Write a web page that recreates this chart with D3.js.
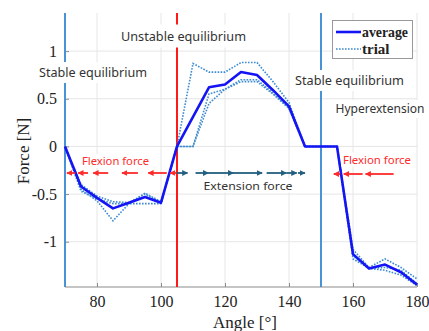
<!DOCTYPE html>
<html><head><meta charset="utf-8">
<script src="https://cdn.jsdelivr.net/npm/d3@7"></script>
<style>html,body{margin:0;padding:0;background:#fff;}svg{display:block;}</style>
</head><body><div id="chart"></div>
<script>
const angles = [70,75,80,85,90,95,100,105,110,115,120,125,130,135,140,145,150,155,160,165,170,175,180];
const average = [0,-0.42,-0.54,-0.65,-0.59,-0.53,-0.59,0,0.31,0.62,0.65,0.78,0.75,0.59,0.42,0,0,0,-1.13,-1.28,-1.24,-1.32,-1.45];
const trial1 = [0,-0.40,-0.52,-0.58,-0.59,-0.50,-0.59,0,0.87,0.78,0.78,0.88,0.88,0.68,0.46,0,0,0,-1.08,-1.27,-1.18,-1.27,-1.39];
const trial2 = [0,-0.45,-0.57,-0.78,-0.60,-0.49,-0.58,0,0,0.55,0.60,0.70,0.70,0.56,0.40,0,0,0,-1.18,-1.28,-1.30,-1.35,-1.46];
const trial3 = [0,-0.47,-0.55,-0.60,-0.60,-0.60,-0.60,0,0,0.45,0.60,0.68,0.68,0.55,0.40,0,0,0,-1.15,-1.28,-1.27,-1.30,-1.44];
const xTicks = [80,100,120,140,160,180];
const yTicks = [-1,-0.5,0,0.5,1];
const yTickLabels = ["-1","-0.5","0","0.5","1"];
const stableLines = [70,150];
const unstableLines = [105];
// arrows: [head, tail] in degrees
const flexArrowsLeft = [[70.6,73.2],[74.1,77.2],[78.8,83.5],[87.8,92.8],[96,101.8],[102.8,104.7]];
const extArrows = [[108.3,104.9],[114.8,110.8],[122.6,114.7],[131.6,122.5],[139.2,133],[142.4,139.2],[145,142.8]];
const flexArrowsRight = [[154,156],[157.1,163],[163.9,172.7]];

const W = 429, H = 331;
const x = d3.scaleLinear().domain([70,180]).range([65,417]);
const y = d3.scaleLinear().domain([-1.475,1.4]).range([287,13]);

const svg = d3.select("#chart").append("svg").attr("width",W).attr("height",H);
const defs = svg.append("defs");
function marker(id,color){
  defs.append("marker").attr("id",id).attr("viewBox","0 0 10 10").attr("refX",9).attr("refY",5)
    .attr("markerWidth",6).attr("markerHeight",6).attr("markerUnits","userSpaceOnUse").attr("orient","auto")
    .append("path").attr("d","M0,0L10,5L0,10z").attr("fill",color);
}
marker("mred","#ff2a2a");
marker("mteal","#235f80");

// grid
const g = svg.append("g");
g.selectAll(".gx").data(xTicks).join("line").attr("x1",d=>x(d)).attr("x2",d=>x(d)).attr("y1",13).attr("y2",287)
  .attr("stroke","#e6e6e6").attr("stroke-width",1);
g.selectAll(".gy").data(yTicks).join("line").attr("x1",65).attr("x2",417).attr("y1",d=>y(d)).attr("y2",d=>y(d))
  .attr("stroke","#e6e6e6").attr("stroke-width",1);

// axes
const xAxis = d3.axisBottom(x).tickValues(xTicks).tickSize(-4).tickPadding(9).tickFormat(d3.format("d"));
const yAxis = d3.axisLeft(y).tickValues(yTicks).tickSize(-4).tickPadding(8).tickFormat((d,i)=>yTickLabels[i]);
const ax = svg.append("g").attr("transform","translate(0,287)").call(xAxis);
const ay = svg.append("g").attr("transform","translate(65,0)").call(yAxis);
[ax,ay].forEach(a=>{
  a.select(".domain").attr("stroke","#8c8c8c").attr("stroke-width",1.2);
  a.selectAll(".tick line").attr("stroke","#8c8c8c");
  a.selectAll("text").attr("font-family","'Liberation Serif', serif").attr("font-size",16).attr("fill","#222");
});
ay.select(".domain").attr("d","M0,13V287");
ax.select(".domain").attr("d","M65,0H417");

// vertical reference lines
svg.selectAll(".vs").data(stableLines).join("line").attr("x1",d=>x(d)).attr("x2",d=>x(d)).attr("y1",13).attr("y2",287)
  .attr("stroke","#4a92d6").attr("stroke-width",2);
svg.selectAll(".vu").data(unstableLines).join("line").attr("x1",d=>x(d)).attr("x2",d=>x(d)).attr("y1",13).attr("y2",287)
  .attr("stroke","#ff1a1a").attr("stroke-width",2);

// data
const line = d3.line().x((d,i)=>x(angles[i])).y(d=>y(d));
[trial1,trial2,trial3].forEach(t=>{
  svg.append("path").attr("d",line(t)).attr("fill","none").attr("stroke","#3d8bd0").attr("stroke-width",1.6)
    .attr("stroke-dasharray","1.6,1.4");
});
svg.append("path").attr("d",line(average)).attr("fill","none").attr("stroke","#1414f5").attr("stroke-width",2.6)
  .attr("stroke-linejoin","round");

// arrows
function arrows(data,color,mid,yv){
  svg.append("g").selectAll("line").data(data).join("line")
    .attr("x1",d=>x(d[1])).attr("x2",d=>x(d[0])).attr("y1",yv).attr("y2",yv)
    .attr("stroke",color).attr("stroke-width",1.8).attr("marker-end",`url(#${mid})`);
}
arrows(flexArrowsLeft,"#ff2a2a","mred",173);
arrows(extArrows,"#235f80","mteal",173);
arrows(flexArrowsRight,"#ff2a2a","mred",174);

// annotations with white background
function label(txt,cx,cy,w,color,fs,bx){
  const gg = svg.append("g");
  const b = bx||{padX:3,padY:10};
  gg.append("rect").attr("x",cx-w/2-b.padX).attr("y",cy-b.padY).attr("width",w+2*b.padX).attr("height",2*b.padY).attr("fill","#fff");
  gg.append("text").attr("x",cx-w/2).attr("y",cy).attr("dy","0.36em").attr("font-family","'Noto Sans', sans-serif")
    .attr("font-size",fs).attr("fill",color).attr("textLength",w).attr("lengthAdjust","spacingAndGlyphs").text(txt);
}
label("Unstable equilibrium",183.5,36,125,"#333",13,{padX:3,padY:11.5});
label("Stable equilibrium",93,72.5,108,"#333",13,{padX:3,padY:10.5});
label("Stable equilibrium",349.5,80.5,109,"#333",13,{padX:3,padY:10.5});
label("Hyperextension",380,109,89,"#333",11.8,{padX:2,padY:9});
label("Flexion force",115.5,161,67,"#ff2a2a",11.5,{padX:2,padY:7});
label("Flexion force",377,159.5,68,"#ff2a2a",11.5,{padX:2,padY:7});
label("Extension force",248,185.5,89,"#333",11.5,{padX:2,padY:7});

// legend
const lg = svg.append("g");
lg.append("rect").attr("x",332.5).attr("y",20.5).attr("width",80).attr("height",38).attr("fill","#fff").attr("stroke","#999").attr("stroke-width",1);
lg.append("line").attr("x1",336).attr("x2",361).attr("y1",32).attr("y2",32).attr("stroke","#1414f5").attr("stroke-width",2.6);
lg.append("line").attr("x1",336).attr("x2",361).attr("y1",49).attr("y2",49).attr("stroke","#3d8bd0").attr("stroke-width",1.6).attr("stroke-dasharray","1.6,1.4");
lg.append("text").attr("x",362).attr("y",32).attr("dy","0.32em").attr("font-family","'Liberation Serif', serif").attr("font-size",15).attr("font-weight","bold").attr("fill","#222").attr("textLength",46).attr("lengthAdjust","spacingAndGlyphs").text("average");
lg.append("text").attr("x",362).attr("y",49).attr("dy","0.32em").attr("font-family","'Liberation Serif', serif").attr("font-size",15).attr("font-weight","bold").attr("fill","#222").text("trial");

// axis titles
svg.append("text").attr("x",245).attr("y",328).attr("text-anchor","middle").attr("font-family","'Liberation Serif', serif").attr("font-size",17).attr("fill","#222").text("Angle [°]");
svg.append("text").attr("transform","translate(29,151) rotate(-90)").attr("text-anchor","middle").attr("font-family","'Liberation Serif', serif").attr("font-size",17).attr("fill","#222").text("Force [N]");
</script></body></html>
